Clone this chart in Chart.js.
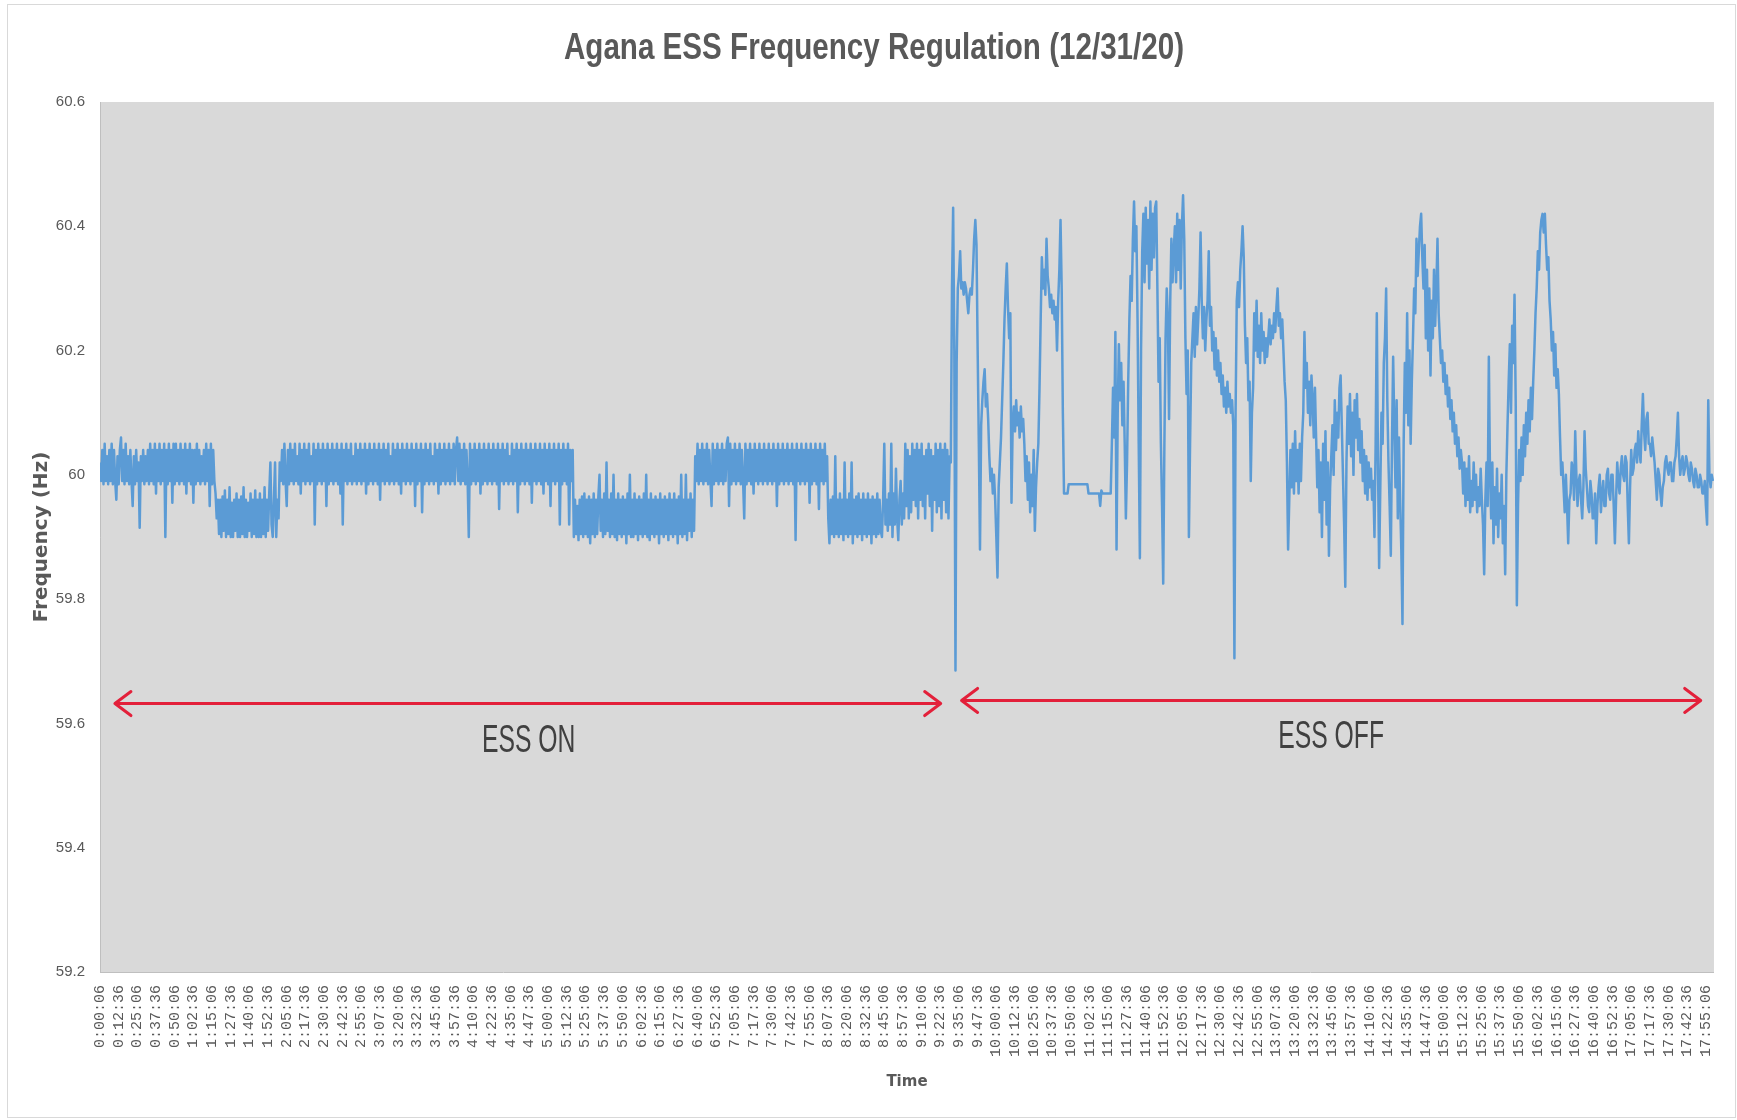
<!DOCTYPE html>
<html>
<head>
<meta charset="utf-8">
<title>Agana ESS Frequency Regulation (12/31/20)</title>
<script src="https://cdn.jsdelivr.net/npm/chart.js@4.4.1/dist/chart.umd.min.js"></script>
<style>
  html, body { margin: 0; padding: 0; background: #ffffff; }
  #freqChart { display: block; }
</style>
</head>
<body>
<canvas id="freqChart" width="1737" height="1120"></canvas>
<script>
const chartTitle = 'Agana ESS Frequency Regulation (12/31/20)';

// x axis tick labels, one every 12.5 minutes
const tickLabels = [
    '0:00:06', '0:12:36', '0:25:06', '0:37:36', '0:50:06', '1:02:36', '1:15:06', '1:27:36', '1:40:06', '1:52:36',
    '2:05:06', '2:17:36', '2:30:06', '2:42:36', '2:55:06', '3:07:36', '3:20:06', '3:32:36', '3:45:06', '3:57:36',
    '4:10:06', '4:22:36', '4:35:06', '4:47:36', '5:00:06', '5:12:36', '5:25:06', '5:37:36', '5:50:06', '6:02:36',
    '6:15:06', '6:27:36', '6:40:06', '6:52:36', '7:05:06', '7:17:36', '7:30:06', '7:42:36', '7:55:06', '8:07:36',
    '8:20:06', '8:32:36', '8:45:06', '8:57:36', '9:10:06', '9:22:36', '9:35:06', '9:47:36', '10:00:06', '10:12:36',
    '10:25:06', '10:37:36', '10:50:06', '11:02:36', '11:15:06', '11:27:36', '11:40:06', '11:52:36', '12:05:06', '12:17:36',
    '12:30:06', '12:42:36', '12:55:06', '13:07:36', '13:20:06', '13:32:36', '13:45:06', '13:57:36', '14:10:06', '14:22:36',
    '14:35:06', '14:47:36', '15:00:06', '15:12:36', '15:25:06', '15:37:36', '15:50:06', '16:02:36', '16:15:06', '16:27:36',
    '16:40:06', '16:52:36', '17:05:06', '17:17:36', '17:30:06', '17:42:36', '17:55:06'
];
const yTicks = [59.2, 59.4, 59.6, 59.8, 60, 60.2, 60.4, 60.6];

// samples logged between two tick labels
const SAMPLES_PER_LABEL = 16;

// frequency (Hz), ESS ON period
const essOnA = [
    60.02, 59.99, 60.04, 59.985, 60.05, 59.99, 60.03, 59.985, 60.04, 59.99, 60.05, 59.985, 60.04, 59.99, 59.96, 60.03, 59.985, 60.04, 60.06, 59.99,
    60.04, 59.985, 60.05, 59.99, 60.03, 59.985, 60.04, 59.99, 59.95, 60.03, 59.985, 60.04, 59.99, 60.02, 59.915, 60.03, 59.99, 60.04, 59.985, 60.03,
    59.99, 60.04, 59.985, 60.05, 59.99, 60.04, 59.985, 60.05, 59.97, 60.04, 59.99, 60.05, 59.985, 60.04, 59.99, 60.05, 59.90, 60.04, 59.985, 60.05,
    59.99, 60.04, 59.955, 60.05, 59.985, 60.05, 59.99, 60.04, 59.985, 60.05, 59.99, 60.04, 59.985, 60.05, 59.97, 60.04, 59.99, 60.05, 59.985, 60.04,
    59.955, 60.04, 59.985, 60.05, 59.99, 60.04, 59.985, 60.03, 59.99, 60.04, 59.985, 60.05, 59.99, 60.04, 59.95, 60.05, 59.985, 60.04, 59.99, 59.97
];
const essOnB = [
    59.93, 59.96, 59.905, 59.96, 59.90, 59.965, 59.91, 59.975, 59.90, 59.96, 59.905, 59.98, 59.90, 59.955, 59.90, 59.96, 59.91, 59.97, 59.90, 59.96,
    59.90, 59.965, 59.905, 59.98, 59.90, 59.96, 59.90, 59.955, 59.91, 59.97, 59.90, 59.96, 59.905, 59.975, 59.90, 59.96, 59.90, 59.97, 59.90, 59.96,
    59.905, 59.98, 59.90, 59.96, 59.91, 59.97, 60.02, 59.92, 59.90, 59.96, 60.02, 59.90, 59.96, 59.93
];
const essOnC = [
    60.02, 59.99, 60.04, 59.985, 60.05, 59.99, 59.95, 60.04, 59.985, 60.05, 59.99, 60.04, 59.985, 60.05, 59.99, 60.03, 59.985, 60.05, 59.97, 60.04,
    59.99, 60.05, 59.985, 60.04, 59.99, 60.05, 59.985, 60.03, 59.99, 60.05, 59.92, 60.04, 59.985, 60.05, 59.99, 60.04, 59.985, 60.05, 59.99, 60.04,
    59.95, 60.05, 59.985, 60.04, 59.99, 60.05, 59.985, 60.04, 59.99, 60.05, 59.985, 60.04, 59.97, 60.05, 59.92, 60.04, 59.99, 60.05, 59.985, 60.04,
    59.99, 60.05, 59.985, 60.03, 59.99, 60.05, 59.985, 60.04, 59.99, 60.05, 59.985, 60.04, 59.99, 60.05, 59.97, 60.04, 59.985, 60.05, 59.99, 60.04,
    59.985, 60.05, 59.99, 60.04, 59.985, 60.05, 59.96, 60.04, 59.99, 60.05, 59.985, 60.04, 59.99, 60.05, 59.985, 60.03, 59.99, 60.05, 59.985, 60.04,
    59.99, 60.05, 59.985, 60.04, 59.97, 60.05, 59.99, 60.04, 59.985, 60.05, 59.99, 60.04, 59.985, 60.05, 59.99, 60.04, 59.95, 60.05, 59.985, 60.04,
    59.99, 60.05, 59.94, 60.04, 59.985, 60.05, 59.99, 60.04, 59.985, 60.05, 59.99, 60.03, 59.985, 60.05, 59.99, 60.04, 59.97, 60.05, 59.985, 60.04,
    59.99, 60.05, 59.985, 60.04, 59.99, 60.05, 59.985, 60.04, 59.99, 60.05, 59.985, 60.04, 60.06, 59.99, 60.05, 59.985, 60.04, 59.99, 60.05, 59.985,
    60.04, 59.99, 59.90, 60.05, 59.985, 60.04, 59.99, 60.05, 59.985, 60.04, 59.99, 60.05, 59.97, 60.04, 59.985, 60.05, 59.99, 60.04, 59.985, 60.05,
    59.99, 60.04, 59.985, 60.05, 59.99, 60.04, 59.985, 60.05, 59.945, 60.04, 59.99, 60.05, 59.985, 60.04, 59.99, 60.05, 59.985, 60.03, 59.99, 60.05,
    59.985, 60.04, 59.99, 60.05, 59.94, 60.04, 59.985, 60.05, 59.99, 60.04, 59.985, 60.05, 59.99, 60.04, 59.985, 60.05, 59.955, 60.04, 59.99, 60.05,
    59.985, 60.04, 59.99, 60.05, 59.985, 60.04, 59.97, 60.05, 59.99, 60.04, 59.985, 60.05, 59.95, 60.04, 59.99, 60.05, 59.985, 60.04, 59.99, 60.05,
    59.92, 60.04, 59.985, 60.05, 59.99, 60.04, 59.985, 60.05, 59.92, 60.04, 59.99, 60.04
];
const essOnD = [
    59.90, 59.96, 59.905, 59.95, 59.895, 59.96, 59.905, 59.965, 59.90, 59.97, 59.905, 59.96, 59.90, 59.965, 59.89, 59.96, 59.905, 59.97, 59.90, 59.96,
    59.905, 59.965, 60.00, 59.91, 59.96, 59.90, 59.97, 59.905, 60.02, 59.91, 59.96, 59.90, 59.97, 59.905, 60.00, 59.90, 59.96, 59.895, 59.97, 59.905,
    59.96, 59.90, 59.965, 59.905, 59.96, 59.89, 59.97, 59.905, 60.00, 59.90, 59.96, 59.90, 59.97, 59.905, 59.96, 59.895, 59.965, 59.905, 59.96, 59.90,
    59.97, 59.905, 60.00, 59.90, 59.96, 59.895, 59.97, 59.905, 59.96, 59.90, 59.965, 59.905, 59.96, 59.89, 59.97, 59.905, 59.96, 59.90, 59.965, 59.905,
    59.96, 59.895, 59.97, 59.905, 59.96, 59.90, 59.97, 59.905, 59.96, 59.89, 59.965, 59.905, 60.00, 59.90, 59.96, 59.905, 60.00, 59.895, 59.96, 59.91,
    59.97, 59.90, 59.96, 59.91
];
const essOnE = [
    60.03, 59.99, 60.05, 59.985, 60.04, 59.99, 60.05, 59.985, 60.04, 59.99, 60.05, 59.985, 60.04, 59.99, 59.95, 60.05, 59.985, 60.04, 59.99, 60.05,
    59.985, 60.04, 59.99, 60.05, 59.985, 60.04, 59.99, 60.05, 60.06, 59.95, 60.05, 59.985, 60.04, 59.99, 60.05, 59.985, 60.04, 59.99, 60.05, 59.985,
    60.04, 59.99, 59.93, 60.05, 59.985, 60.04, 59.99, 60.05, 59.985, 60.04, 59.97, 60.05, 59.99, 60.04, 59.985, 60.05, 59.99, 60.04, 59.985, 60.05,
    59.99, 60.04, 59.985, 60.05, 59.99, 60.04, 59.985, 60.05, 59.99, 60.04, 59.95, 60.05, 59.985, 60.04, 59.99, 60.05, 59.985, 60.04, 59.99, 60.05,
    59.985, 60.04, 59.99, 60.05, 59.985, 60.04, 59.895, 60.05, 59.99, 60.04, 59.985, 60.05, 59.99, 60.04, 59.985, 60.05, 59.99, 60.04, 59.955, 60.05,
    59.985, 60.04, 59.99, 60.05, 59.985, 60.04, 59.945, 60.05, 59.99, 60.04, 59.985, 60.05, 59.99, 60.03
];
const essOnF = [
    59.93, 59.89, 59.96, 59.905, 59.965, 59.90, 60.03, 59.905, 59.96, 59.90, 59.97, 59.905, 59.96, 59.895, 60.02, 59.905, 59.96, 59.90, 59.97, 59.905,
    60.02, 59.89, 59.96, 59.905, 59.965, 59.90, 59.97, 59.905, 59.96, 59.895, 59.97, 59.905, 59.96, 59.90, 59.97, 59.905, 59.96, 59.89, 59.965, 59.905,
    59.96, 59.90, 59.97, 59.905, 59.96, 59.91
];
const essOnG = [
    59.90, 59.96, 60.05, 59.92, 59.96, 59.91, 59.97, 59.92, 60.05, 59.90, 59.97, 59.92, 60.01, 59.93, 59.895, 59.96, 59.99, 59.92, 59.97, 59.93,
    60.05, 59.95, 60.04, 59.93, 60.03, 59.94, 60.05, 59.96, 60.04, 59.95, 60.05, 59.93, 60.04, 59.96, 60.05, 59.95, 60.03, 59.93, 60.04, 59.97,
    60.05, 59.95, 60.04, 59.91, 60.03, 59.96, 60.05, 59.94, 60.04, 59.95, 60.05, 59.93, 60.04, 59.96, 60.05, 59.94, 60.04, 59.93, 60.03, 60.02
];

// frequency (Hz), ESS OFF period
const essOff1 = [
    60.30, 60.43, 60.20, 59.685, 60.18, 60.30, 60.32, 60.36, 60.30, 60.31,
    60.29, 60.31, 60.30, 60.28, 60.26, 60.29, 60.30, 60.29, 60.33, 60.38,
    60.41, 60.37, 60.20, 60.05, 59.88, 60.08, 60.12, 60.15, 60.17, 60.11,
    60.13, 60.09, 60.03, 59.99, 60.01, 59.97, 60.00, 59.96, 59.90, 59.835,
    59.98, 60.02, 60.06, 60.12, 60.18, 60.25, 60.30, 60.34, 60.27, 60.22,
    60.26, 59.955, 60.08, 60.11, 60.07, 60.12, 60.08, 60.10, 60.06, 60.11,
    60.07, 60.09, 60.05, 59.99, 60.03, 59.96, 60.02, 59.94, 60.00, 59.95,
    60.04, 59.91, 59.98, 60.02, 60.05, 60.14, 60.25, 60.35, 60.30, 60.33,
    60.29, 60.38, 60.32, 60.30, 60.27, 60.29, 60.26, 60.28, 60.25, 60.27,
    60.20, 60.28, 60.33, 60.41, 60.30, 60.10, 59.97, 59.97, 59.97, 59.97
];
const essOff2 = [
    59.985, 59.985, 59.985, 59.985, 59.985, 59.985, 59.985, 59.985, 59.985, 59.985,
    59.985, 59.985, 59.985, 59.985, 59.985, 59.985, 59.985, 59.97, 59.97, 59.97,
    59.97, 59.97, 59.97, 59.97, 59.97, 59.97, 59.97, 59.95, 59.975, 59.97,
    59.97, 59.97, 59.97, 59.97, 59.97, 59.97, 59.97, 60.05, 60.14, 60.06,
    60.23, 59.88, 60.10, 60.21, 60.12, 60.18, 60.08, 60.15, 60.05, 59.93,
    60.02, 60.15, 60.25, 60.32, 60.28, 60.38, 60.44, 60.36, 60.40, 60.25,
    60.05, 59.866, 60.20, 60.36, 60.42, 60.31, 60.43, 60.34, 60.41, 60.30,
    60.44, 60.33, 60.42, 60.35, 60.43, 60.44, 60.30, 60.15, 60.22, 60.05,
    59.95, 59.825, 60.05, 60.22, 60.30, 60.25, 60.09, 60.28, 60.38, 60.31,
    60.36, 60.40, 60.31, 60.42, 60.33, 60.41, 60.30, 60.40, 60.45, 60.38
];
const essOff3 = [
    60.22, 60.13, 60.20, 59.90, 60.05, 60.18, 60.22, 60.26, 60.19, 60.27,
    60.21, 60.25, 60.30, 60.39, 60.28, 60.22, 60.27, 60.20, 60.25, 60.28,
    60.36, 60.24, 60.27, 60.20, 60.23, 60.17, 60.22, 60.16, 60.20, 60.15,
    60.18, 60.13, 60.16, 60.11, 60.14, 60.10, 60.15, 60.11, 60.13, 60.10,
    60.12, 60.08, 59.705, 60.10, 60.28, 60.31, 60.27, 60.33, 60.36, 60.40,
    60.35, 60.24, 60.18, 60.22, 60.12, 60.15, 59.99, 60.10, 60.14, 60.26,
    60.20, 60.28, 60.19, 60.24, 60.18, 60.26, 60.20, 60.23, 60.18, 60.22,
    60.19, 60.22, 60.25, 60.21, 60.24, 60.22, 60.26, 60.23, 60.27, 60.30,
    60.24, 60.26, 60.22, 60.25, 60.20, 60.15, 60.12, 60.02, 59.88, 59.96,
    60.04, 59.98, 60.05, 59.97, 60.07, 59.99, 60.04, 59.97, 60.05, 59.99
];
const essOff4 = [
    60.06, 60.10, 60.23, 60.14, 60.18, 60.10, 60.15, 60.08, 60.16, 60.12,
    60.06, 60.14, 60.06, 59.98, 60.04, 59.94, 60.02, 59.90, 60.05, 59.96,
    60.07, 59.92, 60.02, 59.87, 59.98, 60.03, 60.08, 60.00, 60.12, 60.04,
    60.10, 60.06, 60.14, 60.16, 60.08, 60.00, 59.92, 59.82, 60.02, 60.11,
    60.05, 60.13, 60.03, 60.10, 60.00, 60.12, 60.06, 60.13, 60.04, 60.09,
    60.02, 60.07, 59.99, 60.04, 59.97, 60.03, 59.96, 60.02, 59.98, 60.01,
    59.96, 59.99, 59.90, 60.05, 60.26, 60.02, 59.85, 59.98, 60.10, 60.05,
    60.18, 60.22, 60.30, 60.12, 60.02, 59.95, 59.87, 60.05, 60.19, 60.08,
    59.98, 60.12, 59.93, 60.06, 59.96, 59.88, 59.76, 60.05, 60.18, 60.10,
    60.26, 60.08, 60.20, 60.05, 60.15, 60.22, 60.30, 60.26, 60.38, 60.32
];
const essOff5 = [
    60.36, 60.40, 60.42, 60.35, 60.30, 60.37, 60.22, 60.33, 60.20, 60.30,
    60.16, 60.28, 60.22, 60.33, 60.24, 60.30, 60.38, 60.26, 60.22, 60.18,
    60.20, 60.15, 60.18, 60.13, 60.16, 60.11, 60.14, 60.09, 60.12, 60.07,
    60.10, 60.05, 60.08, 60.03, 60.06, 60.01, 60.04, 60.02, 59.97, 60.02,
    59.95, 60.01, 59.96, 60.03, 59.94, 59.99, 59.95, 60.02, 59.96, 60.00,
    59.94, 59.98, 59.95, 60.01, 59.96, 59.92, 59.84, 59.96, 60.02, 59.95,
    60.19, 60.00, 59.93, 60.02, 59.89, 59.98, 59.92, 60.01, 59.90, 59.97,
    59.93, 60.00, 59.89, 59.95, 59.84, 60.00, 60.08, 60.15, 60.21, 60.10,
    60.24, 60.18, 60.29, 60.12, 59.79, 59.95, 60.04, 59.99, 60.06, 60.00,
    60.08, 60.03, 60.10, 60.05, 60.12, 60.07, 60.14, 60.09, 60.15, 60.20
];
const essOff6 = [
    60.26, 60.30, 60.36, 60.33, 60.39, 60.41, 60.42, 60.39, 60.42, 60.37,
    60.33, 60.35, 60.28, 60.25, 60.20, 60.23, 60.16, 60.21, 60.14, 60.17,
    60.13, 60.06, 60.00, 60.02, 59.98, 59.94, 60.00, 59.95, 59.89, 59.96,
    59.97, 60.02, 60.01, 59.96, 60.07, 60.00, 59.95, 59.99, 60.00, 59.96,
    59.93, 59.98, 60.07, 60.01, 59.98, 59.95, 59.94, 59.99, 59.97, 59.93,
    59.93, 59.97, 59.89, 59.95, 59.98, 60.00, 59.94, 59.97, 59.99, 59.95,
    59.95, 60.00, 60.01, 59.97, 59.96, 60.00, 60.00, 59.95, 59.89, 59.96,
    60.02, 59.99, 59.97, 60.01, 60.03, 60.00, 59.99, 60.03, 60.02, 59.95,
    59.89, 59.98, 60.04, 60.00, 60.01, 60.04, 60.05, 60.02, 60.07, 60.04,
    60.02, 60.08, 60.13, 60.07, 60.04, 60.09, 60.10, 60.05, 60.05, 60.03
];
const essOff7 = [
    60.06, 60.04, 60.02, 59.99, 59.96, 60.01, 60.00, 59.97, 59.95, 59.98,
    59.99, 60.02, 60.03, 60.01, 60.00, 60.02, 60.02, 59.99, 59.99, 60.02,
    60.03, 60.06, 60.10, 60.03, 60.00, 60.02, 60.03, 60.00, 60.01, 60.03,
    60.02, 60.00, 59.99, 60.02, 60.01, 59.99, 59.98, 60.01, 60.00, 59.98,
    59.98, 60.00, 59.99, 59.97, 59.97, 59.99, 59.95, 59.92, 60.12, 60.00,
    59.98, 60.00, 59.99
];

// red arrows and their captions, in axis units (x: label index, y: Hz)
const essSpans = [
    { text: 'ESS ON', from: 0.8, to: 45.02, level: 59.632, textX: 22.96, textY: 59.571 },
    { text: 'ESS OFF', from: 46.14, to: 85.72, level: 59.637, textX: 65.93, textY: 59.577 }
];

const freq = [].concat(essOnA, essOnB, essOnC, essOnD, essOnE, essOnF, essOnG,
    essOff1, essOff2, essOff3, essOff4, essOff5, essOff6, essOff7);
const points = freq.map((v, i) => ({ x: i / SAMPLES_PER_LABEL, y: v }));

const sans = '"Liberation Sans", Arial, sans-serif';

const chartBackdrop = {
    id: 'chartBackdrop',
    beforeDraw(chart) {
        const { ctx, chartArea: a } = chart;
        ctx.save();
        ctx.fillStyle = '#ffffff';
        ctx.fillRect(0, 0, chart.width, chart.height);
        ctx.strokeStyle = '#d9d9d9';
        ctx.lineWidth = 1;
        ctx.strokeRect(7.5, 4.5, chart.width - 9, chart.height - 7);
        ctx.fillStyle = '#d9d9d9';
        ctx.fillRect(a.left, a.top, a.right - a.left, a.bottom - a.top);

        // condensed title, like the original Calibri heading
        ctx.translate(874, 49);
        ctx.scale(0.8, 1);
        ctx.fillStyle = '#595959';
        ctx.font = 'bold 37px ' + sans;
        ctx.textAlign = 'center';
        ctx.textBaseline = 'middle';
        ctx.fillText(chartTitle, 0, 0);
        ctx.restore();
    }
};

const essMarkers = {
    id: 'essMarkers',
    afterDatasetsDraw(chart) {
        const { ctx, scales: { x, y } } = chart;
        ctx.save();
        essSpans.forEach(s => {
            const x0 = x.getPixelForValue(s.from);
            const x1 = x.getPixelForValue(s.to);
            const py = y.getPixelForValue(s.level);
            ctx.strokeStyle = '#e3203a';
            ctx.lineWidth = 3;
            ctx.lineCap = 'round';
            ctx.lineJoin = 'round';
            ctx.beginPath();
            ctx.moveTo(x0, py);
            ctx.lineTo(x1, py);
            ctx.moveTo(x0 + 16, py - 12);
            ctx.lineTo(x0, py);
            ctx.lineTo(x0 + 16, py + 12);
            ctx.moveTo(x1 - 16, py - 12);
            ctx.lineTo(x1, py);
            ctx.lineTo(x1 - 16, py + 12);
            ctx.stroke();

            ctx.save();
            ctx.translate(x.getPixelForValue(s.textX), y.getPixelForValue(s.textY));
            ctx.scale(0.65, 1);
            ctx.fillStyle = '#404040';
            ctx.font = '38px ' + sans;
            ctx.textAlign = 'center';
            ctx.textBaseline = 'middle';
            ctx.fillText(s.text, 0, 0);
            ctx.restore();
        });
        ctx.restore();
    }
};

new Chart(document.getElementById('freqChart').getContext('2d'), {
    type: 'line',
    data: {
        datasets: [{
            label: 'Frequency',
            data: points,
            borderColor: '#5b9bd5',
            borderWidth: 2.5,
            borderJoinStyle: 'round',
            pointRadius: 0,
            tension: 0,
            fill: false
        }]
    },
    options: {
        responsive: false,
        animation: false,
        devicePixelRatio: 1,
        layout: { padding: { left: 8, right: 15, top: 102, bottom: 0 } },
        plugins: {
            legend: { display: false },
            tooltip: { enabled: false },
            title: { display: false }
        },
        scales: {
            x: {
                type: 'linear',
                min: 0,
                max: 86.43,
                grid: { display: false, drawTicks: false },
                border: { display: true, color: '#bfbfbf', width: 1 },
                afterBuildTicks: (scale) => { scale.ticks = tickLabels.map((_, i) => ({ value: i })); },
                afterFit: (scale) => { scale.height = 148; },
                ticks: {
                    autoSkip: false,
                    minRotation: 90,
                    maxRotation: 90,
                    padding: 13,
                    color: '#595959',
                    font: { family: '"Liberation Mono", "DejaVu Sans Mono", monospace', size: 15 },
                    callback: (v, i) => tickLabels[i]
                },
                title: {
                    display: true,
                    text: 'Time',
                    color: '#595959',
                    font: { family: '"DejaVu Sans", sans-serif', size: 15, weight: 'bold' },
                    padding: { top: 0, bottom: 29 }
                }
            },
            y: {
                min: 59.2,
                max: 60.6,
                grid: { display: false, drawTicks: false },
                border: { display: true, color: '#bfbfbf', width: 1 },
                afterBuildTicks: (scale) => { scale.ticks = yTicks.map(v => ({ value: v })); },
                afterFit: (scale) => { scale.width = 92; },
                ticks: {
                    padding: 15,
                    color: '#595959',
                    font: { family: sans, size: 15 },
                    callback: (v) => String(v)
                },
                title: {
                    display: true,
                    text: 'Frequency (Hz)',
                    color: '#595959',
                    font: { family: '"DejaVu Sans", sans-serif', size: 20, weight: 'bold' },
                    padding: { top: 22, bottom: 0 }
                }
            }
        }
    },
    plugins: [chartBackdrop, essMarkers]
});
</script>
</body>
</html>
